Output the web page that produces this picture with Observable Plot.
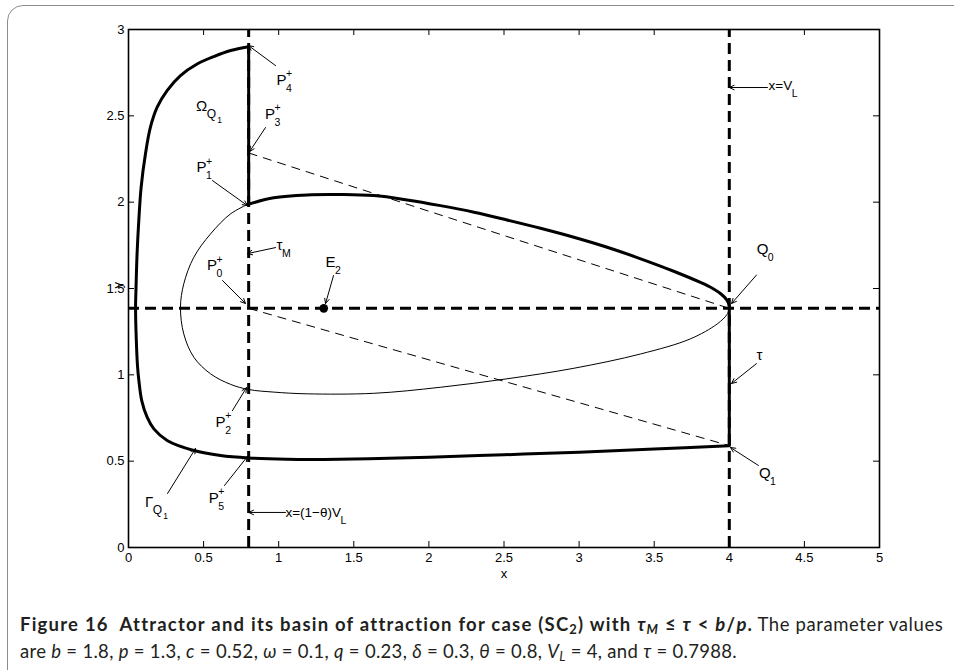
<!DOCTYPE html>
<html><head><meta charset="utf-8">
<script src="https://cdn.jsdelivr.net/npm/d3@7"></script>
<script src="https://cdn.jsdelivr.net/npm/@observablehq/plot@0.6"></script>
<style>
html,body{margin:0;padding:0;background:#fff;overflow:hidden;width:954px;height:670px}
#frame{position:absolute;left:7px;top:5px;width:1000px;height:720px;border:1.5px solid #8c8c8c;border-radius:16px;}
#chart{position:absolute;left:0;top:0}
#caption{position:absolute;left:20px;top:611px;width:940px;font-family:Lato,'Open Sans',sans-serif;font-size:18.5px;line-height:27px;color:#231f20;white-space:nowrap}
#caption sub{font-size:70%;vertical-align:-0.25em;line-height:0}
</style></head><body>
<div id="frame"></div>
<div id="chart"></div>
<div id="caption"><span id="l1"><b id="bold">Figure 16&nbsp; Attractor and its basin of attraction for case (SC<sub>2</sub>) with <i>τ<sub>M</sub></i> ≤ <i>τ</i> &lt; <i>b</i>/<i>p</i>.</b> <span id="reg1">The parameter values</span></span><br><span id="l2">are <i>b</i> = 1.8, <i>p</i> = 1.3, <i>c</i> = 0.52, <i>ω</i> = 0.1, <i>q</i> = 0.23, <i>δ</i> = 0.3, <i>θ</i> = 0.8, <i>V<sub>L</sub></i> = 4, and <i>τ</i> = 0.7988.</span></div>
<script>
// ---- axes ----
const xTicks = [0, 0.5, 1, 1.5, 2, 2.5, 3, 3.5, 4, 4.5, 5];
const yTicks = [0, 0.5, 1, 1.5, 2, 2.5, 3];

// ---- key values ----
const xTheta = 0.8;      // x = (1-θ)V_L
const xVL = 4;           // x = V_L
const yEq = 1.385;       // y of E2
const E2 = {x: 1.3, y: 1.385};
const P0 = [0.8, 1.385], P1 = [0.8, 1.986], P3 = [0.8, 2.285], P4 = [0.8, 2.9];
const Q0 = [4, 1.385], Q1 = [4, 0.59];

// ---- thick boundary Γ_Q1 (from P4+ round the left to Q1) ----
const boundaryX = [0.80, 0.68, 0.568, 0.457, 0.346, 0.257, 0.191, 0.146, 0.113, 0.084, 0.069, 0.057, 0.050, 0.047, 0.052, 0.060, 0.069, 0.088, 0.124, 0.169, 0.257, 0.435, 0.613, 0.80, 1.056, 1.30, 1.60, 2.0, 2.5, 3.0, 3.5, 4.0];
const boundaryY = [2.900, 2.878, 2.843, 2.800, 2.733, 2.646, 2.55, 2.434, 2.28, 2.086, 1.90, 1.70, 1.50, 1.39, 1.20, 1.05, 0.967, 0.851, 0.755, 0.687, 0.62, 0.562, 0.533, 0.519, 0.511, 0.510, 0.514, 0.523, 0.537, 0.552, 0.570, 0.590];

// ---- thick upper arc (P1+ to Q0) ----
const upperX = [0.79, 0.967, 1.19, 1.41, 1.633, 1.855, 2.077, 2.30, 2.52, 2.743, 2.965, 3.187, 3.41, 3.63, 3.808, 3.89, 3.945, 3.982, 3.998, 4.0];
const upperY = [1.986, 2.025, 2.042, 2.044, 2.038, 2.013, 1.98, 1.942, 1.897, 1.849, 1.797, 1.739, 1.672, 1.600, 1.535, 1.500, 1.468, 1.435, 1.405, 1.385];

// ---- thin orbit (P1+ round the left and bottom to Q0) ----
const loopX = [0.79, 0.679, 0.546, 0.435, 0.368, 0.346, 0.368, 0.435, 0.546, 0.679, 0.80, 0.967, 1.19, 1.633, 2.077, 2.52, 2.965, 3.41, 3.74, 3.92, 3.985, 4.0];
const loopY = [1.986, 1.932, 1.816, 1.681, 1.527, 1.391, 1.237, 1.102, 1.006, 0.945, 0.915, 0.900, 0.89, 0.893, 0.928, 0.977, 1.038, 1.121, 1.208, 1.295, 1.35, 1.385];

// ---- annotation arrows ----
const arrowX1 = [0.979, 0.912, 0.559, 0.979, 0.626, 1.365, 0.692, 0.26, 0.639, 1.045, 4.254, 4.181, 4.181, 4.194];
const arrowY1 = [2.791, 2.432, 2.125, 1.737, 1.546, 1.575, 0.793, 0.313, 0.359, 0.203, 2.664, 1.578, 1.065, 0.475];
const arrowX2 = [0.799, 0.806, 0.792, 0.792, 0.779, 1.312, 0.786, 0.446, 0.792, 0.80, 4.0, 4.015, 4.015, 4.008];
const arrowY2 = [2.907, 2.293, 1.98, 1.702, 1.413, 1.413, 0.926, 0.573, 0.527, 0.203, 2.664, 1.413, 0.95, 0.579];

// ---- annotation labels ----
const labelBase = ["P", "P", "P", "P", "P", "P", "Ω", "Γ", "τ", "E", "Q", "Q", "τ", "x=V", "x=(1−θ)V"];
const labelSup  = ["+", "+", "+", "+", "+", "+", "", "", "", "", "", "", "", "", ""];
const labelSub  = ["4", "3", "1", "0", "2", "5", "Q", "Q", "M", "2", "0", "1", "", "L", "L"];
const labelSub2 = ["", "", "", "", "", "", "1", "1", "", "", "", "", "", "", ""];
const labelX = [0.985, 0.908, 0.453, 0.523, 0.580, 0.535, 0.450, 0.110, 0.985, 1.312, 4.182, 4.197, 4.181, 4.261, 1.045];
const labelY = [2.708, 2.511, 2.202, 1.633, 0.726, 0.288, 2.554, 0.262, 1.753, 1.652, 1.73, 0.43, 1.116, 2.675, 0.204];
const labelSize = [15, 15, 15, 15, 15, 15, 15, 15, 15, 15, 15, 15, 15, 13.5, 13.5];

const zip = (xs, ys) => xs.map((x, i) => ({x, y: ys[i]}));
const boundary = zip(boundaryX, boundaryY);
const upper = zip(upperX, upperY);
const loop = zip(loopX, loopY);
const arrows = arrowX1.map((x1, i) => ({x1, y1: arrowY1[i], x2: arrowX2[i], y2: arrowY2[i]}));
const labels = labelBase.map((base, i) => ({base, sup: labelSup[i], sub: labelSub[i], sub2: labelSub2[i], x: labelX[i], y: labelY[i], size: labelSize[i]}));
const solidSegs = [
  {x1: P1[0], y1: P1[1], x2: P4[0], y2: P4[1]},
  {x1: Q1[0], y1: Q1[1], x2: Q0[0], y2: Q0[1]}
];
const dashSegs = [
  {x1: P3[0], y1: P3[1], x2: Q0[0], y2: Q0[1]},
  {x1: P0[0], y1: P0[1], x2: Q1[0], y2: Q1[1]}
];

const W = 954, H = 600, mL = 128, mR = 75, mT = 29, mB = 53;
const iw = W - mL - mR, ih = H - mT - mB, tk = 6;

const plot = Plot.plot({
  width: W, height: H,
  marginLeft: mL, marginRight: mR, marginTop: mT, marginBottom: mB,
  x: {domain: [0, 5]},
  y: {domain: [0, 3]},
  style: {fontFamily: "'Liberation Sans', Arial, sans-serif", fontSize: "13px", color: "black", background: "transparent"},
  marks: [
    Plot.ruleY([yEq], {stroke: "black", strokeWidth: 3, strokeDasharray: "11,6"}),
    Plot.ruleX([xTheta], {y1: 0, y2: 3, stroke: "black", strokeWidth: 3, strokeDasharray: "11,6"}),
    Plot.ruleX([xVL], {y1: 0, y2: 3, stroke: "black", strokeWidth: 3, strokeDasharray: "11,6"}),
    Plot.link(dashSegs, {x1: "x1", y1: "y1", x2: "x2", y2: "y2", stroke: "black", strokeWidth: 1, strokeDasharray: "9,6"}),
    Plot.line(loop, {x: "x", y: "y", curve: "catmull-rom", stroke: "black", strokeWidth: 1}),
    Plot.line(boundary, {x: "x", y: "y", curve: "catmull-rom", stroke: "black", strokeWidth: 3, strokeLinejoin: "round"}),
    Plot.line(upper, {x: "x", y: "y", curve: "catmull-rom", stroke: "black", strokeWidth: 3}),
    Plot.link(solidSegs, {x1: "x1", y1: "y1", x2: "x2", y2: "y2", stroke: "black", strokeWidth: 3}),
    Plot.dot([E2], {x: "x", y: "y", r: 4.3, fill: "black", stroke: "none"}),
    Plot.arrow(arrows, {x1: "x1", y1: "y1", x2: "x2", y2: "y2", stroke: "black", strokeWidth: 1, headLength: 8, headAngle: 50}),
    Plot.text(labels, {x: "x", y: "y", text: "base", fontSize: "size", textAnchor: "start", fill: "black"}),
    Plot.frame({stroke: "black", strokeWidth: 1.6}),
    Plot.tickX(xTicks, {x: d => d, insetTop: ih - tk, stroke: "black", strokeWidth: 1}),
    Plot.tickX(xTicks, {x: d => d, insetBottom: ih - tk, stroke: "black", strokeWidth: 1}),
    Plot.tickY(yTicks, {y: d => d, insetRight: iw - tk, stroke: "black", strokeWidth: 1}),
    Plot.tickY(yTicks, {y: d => d, insetLeft: iw - tk, stroke: "black", strokeWidth: 1}),
    Plot.axisX({ticks: xTicks, tickSize: 0, tickPadding: 5, tickFormat: d => String(d), label: null, fontSize: 13}),
    Plot.axisY({ticks: yTicks, tickSize: 0, tickPadding: 4, tickFormat: d => String(d), label: null, fontSize: 13}),
    Plot.text(["x"], {frameAnchor: "bottom", dy: 30, fontSize: 13, fill: "black"}),
    Plot.text(["y"], {frameAnchor: "left", dx: -11, rotate: -90, fontSize: 13, fill: "black"})
  ]
});
document.getElementById("chart").append(plot);

// rich labels: base + superscript / subscript as tspans
const NS = "http://www.w3.org/2000/svg";
let group = null;
for (const g of plot.querySelectorAll("g")) {
  const ts = Array.from(g.children).filter(c => c.tagName.toLowerCase() === "text");
  if (ts.length === labels.length && ts.every((t, i) => t.textContent === labelBase[i])) { group = ts; break; }
}
if (group) group.forEach((t, i) => {
  const L = labels[i];
  t.textContent = "";
  const b = document.createElementNS(NS, "tspan");
  b.textContent = L.base;
  t.append(b);
  let w = 8;
  try { w = b.getComputedTextLength(); } catch (e) {}
  if (L.sup) {
    const s = document.createElementNS(NS, "tspan");
    s.setAttribute("x", w - 0.5); s.setAttribute("dy", -7.5); s.setAttribute("font-size", 10.5);
    s.textContent = L.sup; t.append(s);
  }
  if (L.sub) {
    const s = document.createElementNS(NS, "tspan");
    s.setAttribute("x", w - 0.5); s.setAttribute("dy", L.sup ? 14.5 : 7); s.setAttribute("font-size", L.sub2 ? 12 : 10.5);
    s.textContent = L.sub; t.append(s);
    if (L.sub2) {
      const s2 = document.createElementNS(NS, "tspan");
      s2.setAttribute("dx", 1); s2.setAttribute("dy", 4.5); s2.setAttribute("font-size", 8.5);
      s2.textContent = L.sub2; t.append(s2);
    }
  }
});

// fit caption widths to the reference's condensed typesetting
function spread(el, target) {
  el.style.letterSpacing = "0px";
  const w0 = el.getBoundingClientRect().width;
  const n = el.textContent.length;
  el.style.letterSpacing = ((target - w0) / n) + "px";
}
spread(document.getElementById("l2"), 717);
spread(document.getElementById("reg1"), 186);
spread(document.getElementById("bold"), 732);
</script>
</body></html>
